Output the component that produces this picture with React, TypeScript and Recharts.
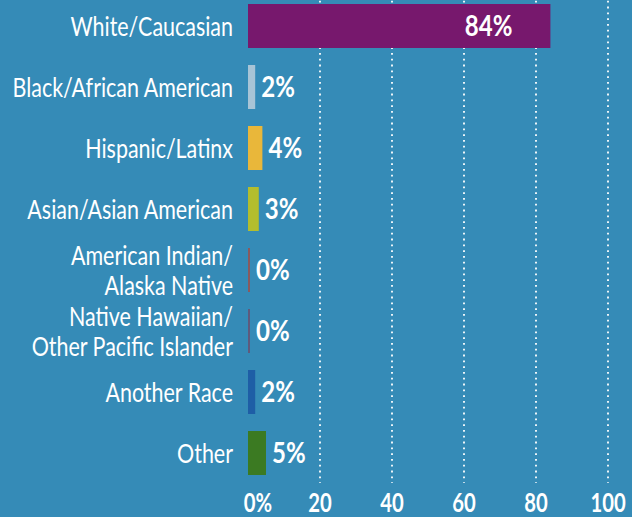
import { Bar, BarChart, CartesianGrid, Cell, LabelList, XAxis, YAxis } from 'recharts';

const categories = [
  'White/Caucasian',
  'Black/African American',
  'Hispanic/Latinx',
  'Asian/Asian American',
  'American Indian/\nAlaska Native',
  'Native Hawaiian/\nOther Pacific Islander',
  'Another Race',
  'Other',
];
const shares = [84, 2, 4, 3, 0, 0, 2, 5];
const barColors = ['#77186d', '#a8c4d6', '#e9b73a', '#b3bd2d', '#8a5a5e', '#5f5a7c', '#1e5ea6', '#3b7a22'];
const xTicks = [0, 20, 40, 60, 80, 100];
const gridValues = [20, 40, 60, 80, 100];

const data = categories.map((name, i) => ({ name, value: shares[i] }));

const FONT = 'Lato, "DejaVu Sans", sans-serif';

// the source uses a condensed face, so squeeze Lato horizontally
function CategoryTick({ x, y, payload }: any) {
  const lines = String(payload.value).split('\n');
  const lh = 30;
  const start = -((lines.length - 1) * lh) / 2;
  return (
    <g transform={`translate(${x - 7},${y}) scale(0.78,1)`}>
      {lines.map((l, i) => (
        <text
          key={i}
          x={0}
          y={start + i * lh + 10}
          textAnchor="end"
          fill="#fff"
          fontSize={27.5}
          fontFamily={FONT}
        >
          {l}
        </text>
      ))}
    </g>
  );
}

function ValueTick({ x, y, payload }: any) {
  const isZero = payload.value === 0;
  return (
    <g transform={`translate(${isZero ? x + 10 : x},${y + 21}) scale(0.75,1)`}>
      <text x={0} y={0} textAnchor="middle" fill="#fff" fontSize={27} fontWeight="bold" fontFamily={FONT}>
        {isZero ? '0%' : payload.value}
      </text>
    </g>
  );
}

function ValueLabel({ x, y, width, height, value }: any) {
  const inside = value > 50;
  return (
    <g transform={`translate(${inside ? x + width - 38 : x + width + 6},${y + height / 2 + 10}) scale(0.86,1)`}>
      <text
        x={0}
        y={0}
        textAnchor={inside ? 'end' : 'start'}
        fill="#fff"
        fontSize={28}
        fontWeight="bold"
        fontFamily={FONT}
      >
        {value}%
      </text>
    </g>
  );
}

export default function App() {
  return (
    <div
      style={{
        position: 'absolute',
        left: 0,
        top: 0,
        width: 632,
        height: 517,
        background: '#358bb7',
        overflow: 'hidden',
      }}
    >
      <BarChart
        width={632}
        height={517}
        data={data}
        layout="vertical"
        margin={{ top: -5, right: 24, bottom: 0, left: 0 }}
        barSize={44}
      >
        <CartesianGrid
          horizontal={false}
          verticalValues={gridValues}
          stroke="#ffffff"
          strokeWidth={1.8}
          strokeDasharray="1.8 4"
        />
        <XAxis
          type="number"
          domain={[0, 100]}
          ticks={xTicks}
          axisLine={false}
          tickLine={false}
          height={34}
          tick={<ValueTick />}
          interval={0}
        />
        <YAxis
          type="category"
          dataKey="name"
          width={248}
          axisLine={false}
          tickLine={false}
          tick={<CategoryTick />}
          interval={0}
        />
        <Bar dataKey="value" isAnimationActive={false} minPointSize={2}>
          {data.map((d, i) => (
            <Cell key={d.name} fill={barColors[i]} />
          ))}
          <LabelList dataKey="value" content={<ValueLabel />} />
        </Bar>
      </BarChart>
    </div>
  );
}
